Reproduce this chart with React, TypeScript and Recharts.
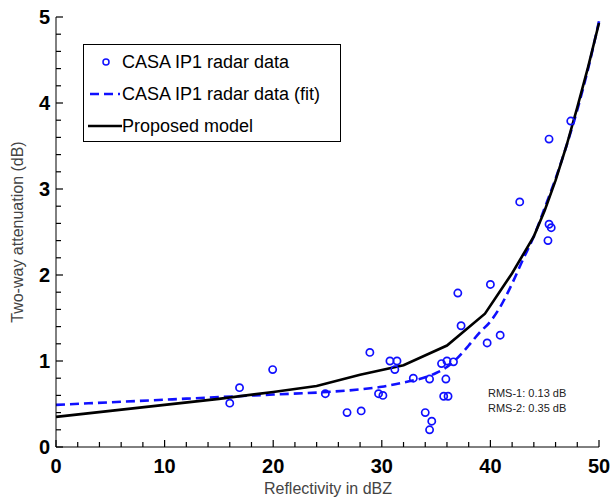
import { ComposedChart, Line, Scatter, XAxis, YAxis } from "recharts";

const radarX = [16.0, 16.9, 19.95, 24.8, 26.8, 28.1, 28.9, 29.7, 30.1, 30.75, 31.2, 31.4, 32.9, 34.0, 34.4, 34.6, 34.4, 35.5, 35.7, 35.9, 36.0, 36.1, 36.6, 37.0, 37.3, 39.7, 40.0, 40.9, 42.7, 45.3, 45.4, 45.6, 45.4, 47.4];
const radarY = [0.51, 0.69, 0.90, 0.62, 0.40, 0.42, 1.10, 0.62, 0.60, 1.00, 0.90, 1.00, 0.80, 0.40, 0.20, 0.30, 0.79, 0.97, 0.59, 0.79, 1.00, 0.59, 0.99, 1.79, 1.41, 1.21, 1.89, 1.30, 2.85, 2.40, 2.59, 2.55, 3.58, 3.79];

const fitX = [0, 5, 10, 15, 20, 25, 28, 30, 32, 34, 35, 36, 37, 38, 39, 40, 41, 42, 43, 44, 45, 46, 47, 48, 49, 50];
const fitY = [0.49, 0.52, 0.55, 0.58, 0.61, 0.64, 0.67, 0.70, 0.75, 0.81, 0.86, 0.93, 1.04, 1.18, 1.33, 1.46, 1.65, 1.90, 2.18, 2.45, 2.78, 3.12, 3.50, 3.92, 4.40, 4.95];

const modelX = [0, 5, 10, 15, 20, 24, 28, 32, 36, 39.5, 42, 44, 45, 46, 47, 48, 49, 50];
const modelY = [0.35, 0.42, 0.49, 0.56, 0.64, 0.71, 0.84, 0.95, 1.18, 1.55, 2.02, 2.45, 2.75, 3.1, 3.5, 3.95, 4.42, 4.93];

const xTicks = [0, 2, 4, 6, 8, 10, 12, 14, 16, 18, 20, 22, 24, 26, 28, 30, 32, 34, 36, 38, 40, 42, 44, 46, 48, 50];
const yTicks = [0, 0.2, 0.4, 0.6, 0.8, 1, 1.2, 1.4, 1.6, 1.8, 2, 2.2, 2.4, 2.6, 2.8, 3, 3.2, 3.4, 3.6, 3.8, 4, 4.2, 4.4, 4.6, 4.8, 5];

const radar = radarX.map((x, i) => ({ x, y: radarY[i] }));
const fit = fitX.map((x, i) => ({ x, y: fitY[i] }));
const model = modelX.map((x, i) => ({ x, y: modelY[i] }));

const FONT = "'Liberation Sans', Arial, Helvetica, sans-serif";
const BLUE = "#1010ff";

// ticks point inward; tickSize is 0 so x/y sit on the axis line
function XTick(props: any) {
  const { x, y, payload } = props;
  const major = payload.value % 10 === 0;
  const len = major ? 7 : 5;
  return (
    <g>
      <rect x={x - 0.6} y={y - len} width={1.2} height={len} fill="#000" />
      {major && (
        <text x={x} y={y + 26} textAnchor="middle" fontSize={20} fontWeight="bold" fontFamily={FONT} fill="#000">
          {payload.value}
        </text>
      )}
    </g>
  );
}

function YTick(props: any) {
  const { x, y, payload } = props;
  const major = Math.abs(payload.value - Math.round(payload.value)) < 1e-6;
  const len = major ? 7 : 5;
  return (
    <g>
      <rect x={x} y={y - 0.6} width={len} height={1.2} fill="#000" />
      {major && (
        <text x={x - 6} y={y + 7} textAnchor="end" fontSize={20} fontWeight="bold" fontFamily={FONT} fill="#000">
          {Math.round(payload.value)}
        </text>
      )}
    </g>
  );
}

function Ring({ cx, cy }: any) {
  return <circle cx={cx} cy={cy} r={3.6} fill="none" stroke={BLUE} strokeWidth={1.7} />;
}

function LegendBox() {
  const row = { display: "flex", alignItems: "center", height: 32 } as const;
  return (
    <div style={{ position: "absolute", left: 83, top: 44, border: "1px solid #000", background: "#fff", width: 258, height: 98, padding: "1px 0 0 4px", boxSizing: "border-box", fontFamily: FONT, fontSize: 18, color: "#000" }}>
      <div style={row}>
        <svg width={34} height={20}><circle cx={18} cy={10} r={3} fill="none" stroke={BLUE} strokeWidth={1.5} /></svg>
        <span>CASA IP1 radar data</span>
      </div>
      <div style={row}>
        <svg width={34} height={20}><line x1={2} x2={32} y1={10} y2={10} stroke={BLUE} strokeWidth={2.5} strokeDasharray="9 5" /></svg>
        <span>CASA IP1 radar data (fit)</span>
      </div>
      <div style={row}>
        <svg width={34} height={20}><line x1={0} x2={34} y1={10} y2={10} stroke="#000" strokeWidth={2.5} /></svg>
        <span>Proposed model</span>
      </div>
    </div>
  );
}

export default function App() {
  return (
    <div style={{ position: "absolute", left: 0, top: 0, width: 612, height: 500, background: "#fff" }}>
      <ComposedChart width={612} height={500} margin={{ top: 17, right: 13, left: 0, bottom: 0 }}>
        <XAxis type="number" dataKey="x" domain={[0, 50]} ticks={xTicks} interval={0} tick={<XTick />}
          tickLine={false} tickSize={0} tickMargin={0} height={53} axisLine={{ stroke: "#000" }} />
        <YAxis type="number" dataKey="y" domain={[0, 5]} ticks={yTicks} interval={0} tick={<YTick />}
          tickLine={false} tickSize={0} tickMargin={0} width={56} axisLine={{ stroke: "#000" }} />
        <Line data={fit} dataKey="y" type="monotone" stroke={BLUE} strokeWidth={2.6} strokeDasharray="9 5" dot={false} isAnimationActive={false} />
        <Line data={model} dataKey="y" type="linear" stroke="#000" strokeWidth={2.6} dot={false} isAnimationActive={false} />
        <Scatter data={radar} dataKey="y" shape={<Ring />} isAnimationActive={false} />
      </ComposedChart>
      <LegendBox />
      <div style={{ position: "absolute", left: 228, width: 200, top: 480, textAlign: "center", fontFamily: FONT, fontSize: 16, color: "#444" }}>
        Reflectivity in dBZ
      </div>
      <div style={{ position: "absolute", left: 18 - 150, top: 232 - 10, width: 300, height: 20, lineHeight: "20px", textAlign: "center", transform: "rotate(-90deg)", fontFamily: FONT, fontSize: 16, color: "#444" }}>
        Two-way attenuation (dB)
      </div>
      <div style={{ position: "absolute", left: 488, top: 386, fontFamily: FONT, fontSize: 11, lineHeight: "15px", color: "#222" }}>
        <div>RMS-1: 0.13 dB</div>
        <div>RMS-2: 0.35 dB</div>
      </div>
    </div>
  );
}
